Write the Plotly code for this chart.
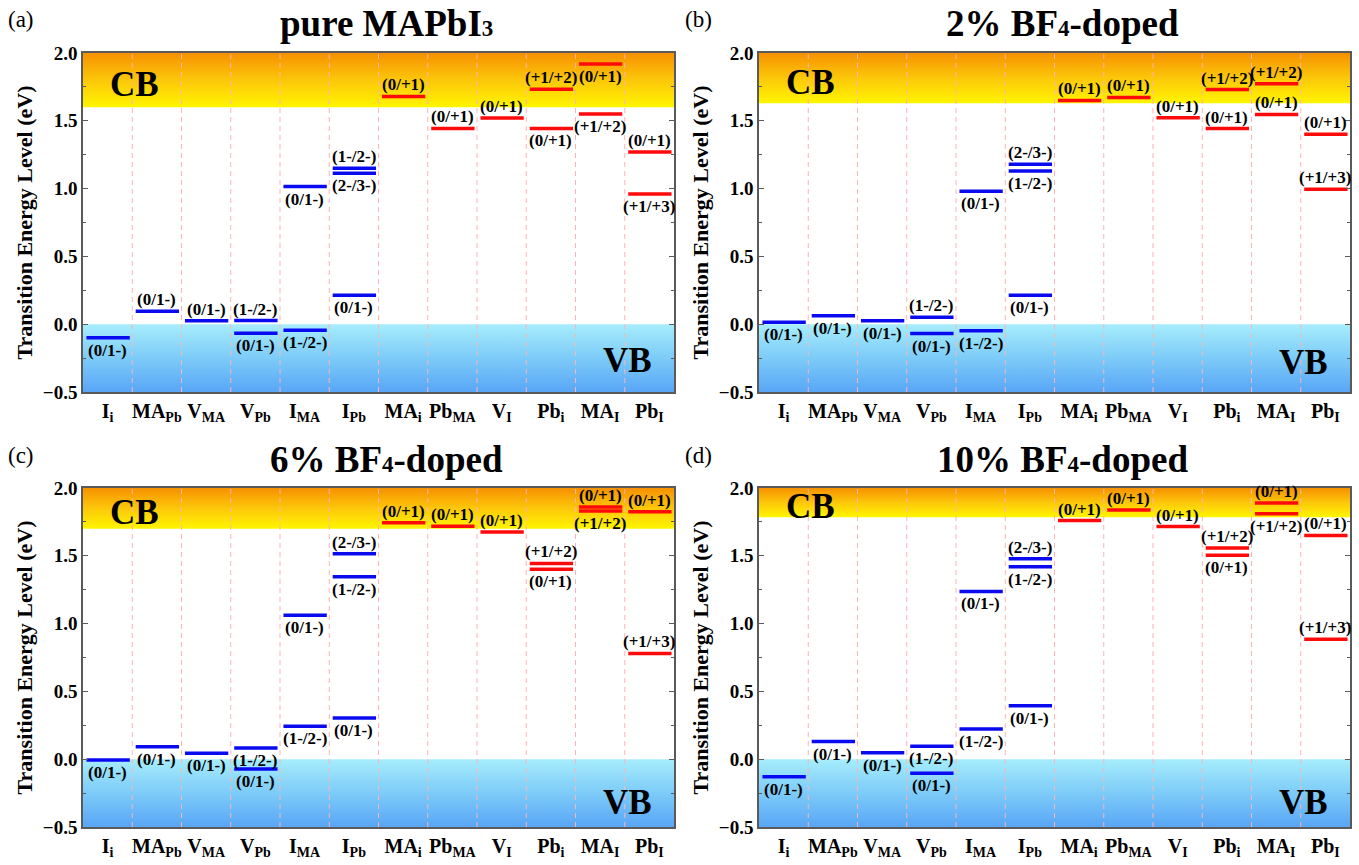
import plotly.graph_objects as go

categories = ["I<sub>i</sub>", "MA<sub>Pb</sub>", "V<sub>MA</sub>", "V<sub>Pb</sub>", "I<sub>MA</sub>",
              "I<sub>Pb</sub>", "MA<sub>i</sub>", "Pb<sub>MA</sub>", "V<sub>I</sub>", "Pb<sub>i</sub>",
              "MA<sub>I</sub>", "Pb<sub>I</sub>"]

titles = ["pure MAPbI<span style='font-size:23px'>3</span>",
          "2% BF<span style='font-size:23px'>4</span>-doped",
          "6% BF<span style='font-size:23px'>4</span>-doped",
          "10% BF<span style='font-size:23px'>4</span>-doped"]
panel_tags = ["(a)", "(b)", "(c)", "(d)"]
cb_min = [1.60, 1.63, 1.70, 1.785]

# panel (a) pure MAPbI3
a_defect = [0, 1, 2, 3, 3, 4, 4, 5, 5, 5, 6, 7, 8, 9, 9, 10, 10, 11, 11]
a_energy = [-0.10, 0.095, 0.025, 0.027, -0.066, -0.044, 1.015, 0.213, 1.113, 1.15,
            1.68, 1.444, 1.52, 1.733, 1.444, 1.919, 1.55, 1.27, 0.96]
a_label = ["(0/1-)", "(0/1-)", "(0/1-)", "(1-/2-)", "(0/1-)", "(1-/2-)", "(0/1-)", "(0/1-)", "(2-/3-)", "(1-/2-)",
           "(0/+1)", "(0/+1)", "(0/+1)", "(+1/+2)", "(0/+1)", "(0/+1)", "(+1/+2)", "(0/+1)", "(+1/+3)"]
a_side = [-1, 1, 1, 1, -1, -1, -1, -1, -1, 1, 1, 1, 1, 1, -1, -1, -1, 1, -1]

# panel (b) 2% BF4-doped
b_defect = [0, 1, 2, 3, 3, 4, 4, 5, 5, 5, 6, 7, 8, 9, 9, 10, 10, 11, 11]
b_energy = [0.015, 0.062, 0.025, 0.052, -0.069, -0.049, 0.98, 0.214, 1.13, 1.18,
            1.65, 1.672, 1.522, 1.73, 1.443, 1.773, 1.547, 1.40, 0.995]
b_label = ["(0/1-)", "(0/1-)", "(0/1-)", "(1-/2-)", "(0/1-)", "(1-/2-)", "(0/1-)", "(0/1-)", "(1-/2-)", "(2-/3-)",
           "(0/+1)", "(0/+1)", "(0/+1)", "(+1/+2)", "(0/+1)", "(+1/+2)", "(0/+1)", "(0/+1)", "(+1/+3)"]
b_side = [-1, -1, -1, 1, -1, -1, -1, -1, -1, 1, 1, 1, 1, 1, 1, 1, 1, 1, 1]

# panel (c) 6% BF4-doped
c_defect = [0, 1, 2, 3, 3, 4, 4, 5, 5, 5, 6, 7, 8, 9, 9, 10, 10, 11, 11]
c_energy = [-0.005, 0.092, 0.044, 0.083, -0.073, 0.243, 1.061, 0.303, 1.346, 1.515,
            1.743, 1.718, 1.676, 1.444, 1.40, 1.86, 1.83, 1.824, 0.78]
c_label = ["(0/1-)", "(0/1-)", "(0/1-)", "(1-/2-)", "(0/1-)", "(1-/2-)", "(0/1-)", "(0/1-)", "(1-/2-)", "(2-/3-)",
           "(0/+1)", "(0/+1)", "(0/+1)", "(+1/+2)", "(0/+1)", "(0/+1)", "(+1/+2)", "(0/+1)", "(+1/+3)"]
c_side = [-1, -1, -1, -1, -1, -1, -1, -1, -1, 1, 1, 1, 1, 1, -1, 1, -1, 1, 1]

# panel (d) 10% BF4-doped
d_defect = [0, 1, 2, 3, 3, 4, 4, 5, 5, 5, 6, 7, 8, 9, 9, 10, 10, 11, 11]
d_energy = [-0.13, 0.13, 0.047, 0.096, -0.103, 0.223, 1.237, 0.395, 1.42, 1.479,
            1.76, 1.837, 1.716, 1.558, 1.504, 1.889, 1.81, 1.65, 0.884]
d_label = ["(0/1-)", "(0/1-)", "(0/1-)", "(1-/2-)", "(0/1-)", "(1-/2-)", "(0/1-)", "(0/1-)", "(1-/2-)", "(2-/3-)",
           "(0/+1)", "(0/+1)", "(0/+1)", "(+1/+2)", "(0/+1)", "(0/+1)", "(+1/+2)", "(0/+1)", "(+1/+3)"]
d_side = [-1, -1, -1, -1, -1, -1, -1, -1, -1, 1, 1, 1, 1, 1, -1, 1, -1, 1, 1]

panels = [(a_defect, a_energy, a_label, a_side),
          (b_defect, b_energy, b_label, b_side),
          (c_defect, c_energy, c_label, c_side),
          (d_defect, d_energy, d_label, d_side)]

W, H = 1359, 865
FONT = "Liberation Serif, Times New Roman, serif"
xdoms = [(83 / W, 674 / W), (759 / W, 1350 / W)]
ydoms = [(1 - 392 / H, 1 - 53 / H), (1 - 827 / H, 1 - 488 / H)]
cb_text_y = [1.77, 1.78, 1.82, 1.86]
vb_text_y = [-0.27, -0.28, -0.32, -0.32]

fig = go.Figure()
layout = dict(width=W, height=H, margin=dict(l=0, r=0, t=0, b=0, autoexpand=False),
              paper_bgcolor="white", plot_bgcolor="white", showlegend=False,
              font=dict(family=FONT, color="black"))
annotations = []
shapes = []

for p in range(4):
    row, col = divmod(p, 2)
    xa = "x" if p == 0 else f"x{p + 1}"
    ya = "y" if p == 0 else f"y{p + 1}"
    xkey = "xaxis" if p == 0 else f"xaxis{p + 1}"
    ykey = "yaxis" if p == 0 else f"yaxis{p + 1}"
    layout[xkey] = dict(domain=list(xdoms[col]), range=[-0.5, 11.5], anchor=ya,
                        tickvals=list(range(len(categories))), ticktext=categories,
                        showgrid=False, zeroline=False, showline=True, mirror=True,
                        linecolor="#5a5a5a", linewidth=1.5, ticks="", automargin=False,
                        tickfont=dict(family=FONT, size=20, weight="bold"))
    layout[ykey] = dict(domain=list(ydoms[row]), range=[-0.5, 2.0], anchor=xa,
                        dtick=0.5, tick0=0, tickformat=".1f", showgrid=False, zeroline=False,
                        showline=True, mirror="allticks", linecolor="#5a5a5a", linewidth=1.5,
                        ticks="inside", ticklen=5, tickcolor="#5a5a5a", automargin=False,
                        minor=dict(ticks="inside", ticklen=3, dtick=0.25, tickcolor="#5a5a5a"),
                        tickfont=dict(family=FONT, size=19, weight="bold"),
                        title=dict(text="Transition Energy Level (eV)", standoff=4,
                                   font=dict(family=FONT, size=22, weight="bold")))

    # CB band (gradient)
    cb = cb_min[p]
    fig.add_trace(go.Scatter(x=[-0.5, 11.5, 11.5, -0.5, -0.5], y=[cb, cb, 2.0, 2.0, cb],
                             xaxis=xa, yaxis=ya, mode="lines", line=dict(width=0),
                             fill="toself",
                             fillgradient=dict(type="vertical",
                                               colorscale=[[0, "#FFF500"], [0.5, "#FCC70A"], [1, "#F69100"]]),
                             hoverinfo="skip"))
    # VB band (gradient)
    fig.add_trace(go.Scatter(x=[-0.5, 11.5, 11.5, -0.5, -0.5], y=[-0.5, -0.5, 0.0, 0.0, -0.5],
                             xaxis=xa, yaxis=ya, mode="lines", line=dict(width=0),
                             fill="toself",
                             fillgradient=dict(type="vertical",
                                               colorscale=[[0, "#58A6F6"], [0.5, "#7DCBF8"], [1, "#A6EDFC"]]),
                             hoverinfo="skip"))

    # category separators
    for k in range(len(categories) - 1):
        shapes.append(dict(type="line", xref=xa, yref=ya, x0=k + 0.5, x1=k + 0.5, y0=-0.5, y1=2.0,
                           line=dict(color="#FFB3B3", width=1, dash="5px,4px"), layer="above"))

    defect, energy, label, side = panels[p]
    for color, want_plus in (("#0A0AF0", False), ("#FF0A0A", True)):
        xs, ys = [], []
        for d, e, lb in zip(defect, energy, label):
            if ("+" in lb) == want_plus:
                xs += [d - 0.43, d + 0.45, None]
                ys += [e, e, None]
        fig.add_trace(go.Scatter(x=xs, y=ys, xaxis=xa, yaxis=ya, mode="lines",
                                 line=dict(color=color, width=3.5), hoverinfo="skip"))
    for d, e, lb, s in zip(defect, energy, label, side):
        annotations.append(dict(x=d, y=e, xref=xa, yref=ya, text=lb, showarrow=False,
                                xanchor="center",
                                yanchor="bottom" if s > 0 else "top", yshift=0 if s > 0 else -1,
                                font=dict(family=FONT, size=17, weight="bold", color="black")))

    annotations.append(dict(x=0.55, y=cb_text_y[p], xref=xa, yref=ya, text="CB", showarrow=False,
                            xanchor="center",
                            font=dict(family=FONT, size=35, weight="bold")))
    annotations.append(dict(x=10.55, y=vb_text_y[p], xref=xa, yref=ya, text="VB", showarrow=False,
                            xanchor="center",
                            font=dict(family=FONT, size=35, weight="bold")))

    # panel title and tag
    xc = (xdoms[col][0] + xdoms[col][1]) / 2 + 8 / W
    ytop = ydoms[row][1]
    annotations.append(dict(x=xc, y=ytop + 29 / H, xref="paper", yref="paper", text=titles[p],
                            showarrow=False, xanchor="center", yanchor="middle",
                            font=dict(family=FONT, size=37, weight="bold")))
    annotations.append(dict(x=(6 if col == 0 else 683) / W, y=ytop + 33 / H, xref="paper", yref="paper",
                            text=panel_tags[p], showarrow=False, xanchor="left", yanchor="middle",
                            font=dict(family=FONT, size=23)))

layout["annotations"] = annotations
layout["shapes"] = shapes
fig.update_layout(**layout)
fig.write_html("out.html", config={"displayModeBar": False},
               post_script="document.body.style.margin='0';document.body.style.padding='0';")
